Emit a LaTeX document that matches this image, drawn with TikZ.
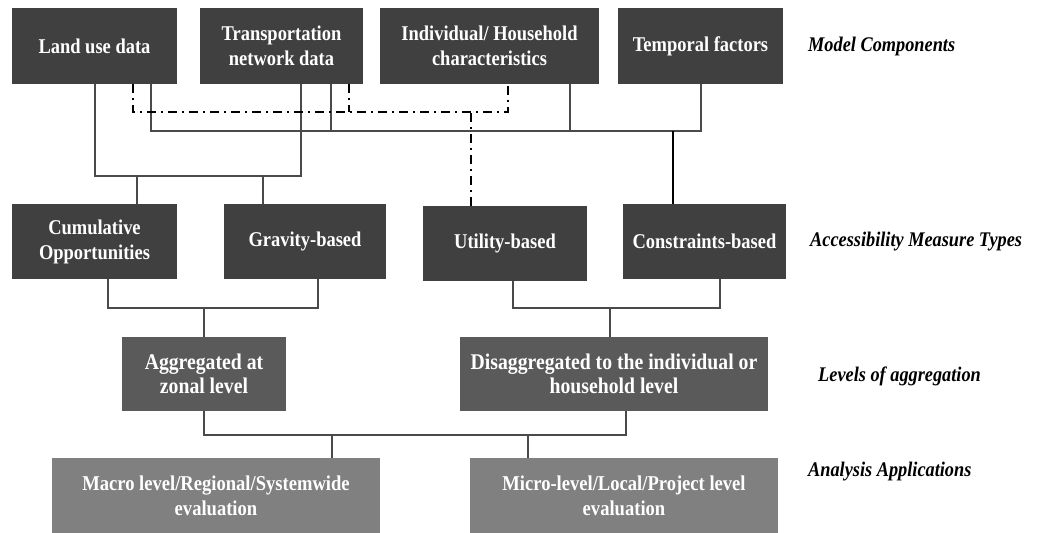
\documentclass[tikz,border=0pt]{standalone}
\usepackage{fontspec}
\setmainfont{Liberation Serif}[FakeStretch=0.88]
\definecolor{cA}{HTML}{404040}
\definecolor{cB}{HTML}{5A5A5A}
\definecolor{cC}{HTML}{808080}
\definecolor{lc}{HTML}{4A4A4A}
\begin{document}
\begin{tikzpicture}[x=1pt,y=-1pt,
  box/.style={fill=cA, text=white, font=\bfseries\fontsize{21}{25}\selectfont, align=center, inner sep=0pt, minimum height=76pt},
  lab/.style={anchor=west, font=\bfseries\itshape\fontsize{20.8}{24}\selectfont, inner sep=0pt},
  ln/.style={draw=lc, line width=2pt},
  dd/.style={draw=black, line width=2pt, dash pattern=on 9pt off 5pt on 2pt off 5pt}]
\useasboundingbox (0,0) rectangle (1042,533);
% row 1
\node[box,minimum width=165pt] (lu) at (94.5,46) {Land use data};
\node[box,minimum width=163pt] (tn) at (281.5,46) {Transportation\\network data};
\node[box,minimum width=219pt] (ih) at (489.5,46) {Individual/ Household\\characteristics};
\node[box,minimum width=165pt] (tf) at (700.5,46) {Temporal factors};
\node[lab] (mc) at (808,46) {Model Components};
% row 2
\node[box,minimum width=165pt,minimum height=75pt] (co) at (94.5,241.5) {Cumulative\\Opportunities};
\node[box,minimum width=162pt,minimum height=75pt] (gr) at (305,241.5) {Gravity-based};
\node[box,minimum width=164pt,minimum height=75pt] (ut) at (505,243.5) {Utility-based};
\node[box,minimum width=163pt,minimum height=75pt] (cn) at (704.5,241.5) {Constraints-based};
\node[lab] (am) at (810,242) {Accessibility Measure Types};
% row 3
\node[box,fill=cB,minimum width=164pt,minimum height=74pt,font=\bfseries\fontsize{22.4}{24.5}\selectfont] (ag) at (204,374) {Aggregated at\\zonal level};
\node[box,fill=cB,minimum width=308pt,minimum height=74pt,font=\bfseries\fontsize{22.4}{24.5}\selectfont] (di) at (614,374) {Disaggregated to the individual or\\household level};
\node[lab] (la) at (818,376) {Levels of aggregation};
% row 4
\node[box,fill=cC,minimum width=328pt,minimum height=75pt,font=\bfseries\fontsize{21.1}{25}\selectfont] (ma) at (216,495.5) {Macro level/Regional/Systemwide\\evaluation};
\node[box,fill=cC,minimum width=308pt,minimum height=75pt,font=\bfseries\fontsize{21.1}{25}\selectfont] (mi) at (624,495.5) {Micro-level/Local/Project level\\evaluation};
\node[lab] (aa) at (808,472) {Analysis Applications};
% solid set A (land use + transport -> cumulative, gravity)
\draw[ln] ([xshift=0.5pt]lu.south) -- ++(0,92) -| ([xshift=19.5pt]tn.south);
\draw[ln] ([xshift=42.5pt]co.north) -- ++(0,-28);
\draw[ln] ([xshift=-42pt]gr.north) -- ++(0,-28);
% solid set B (all -> constraints)
\draw[ln] ([xshift=56.5pt]lu.south) -- ++(0,47) -| (tf.south);
\draw[ln] ([xshift=49.5pt]tn.south) -- ++(0,47);
\draw[ln] ([xshift=80.5pt]ih.south) -- ++(0,47);
\draw[black,line width=2.5pt] ([xshift=-31.5pt]cn.north) -- ++(0,-73);
% dash-dot set (-> utility)
\draw[dd] ([xshift=38.5pt]lu.south) -- ++(0,28) -| ([xshift=18.5pt]ih.south);
\draw[dd] ([xshift=67.5pt]tn.south) -- ++(0,28);
\draw[dd] ([xshift=-34pt]ut.north) -- ++(0,-94);
% brackets to level of aggregation
\draw[ln] ([xshift=13.5pt]co.south) -- ++(0,29) -| ([xshift=13pt]gr.south);
\draw[ln] (ag.north) -- ++(0,-29);
\draw[ln] ([xshift=8pt]ut.south) -- ++(0,27) -| ([xshift=15.5pt]cn.south);
\draw[ln] ([xshift=-4pt]di.north) -- ++(0,-29);
% to applications
\draw[ln] (ag.south) -- ++(0,24) -| ([xshift=12pt]di.south);
\draw[ln] ([xshift=116pt]ma.north) -- ++(0,-23);
\draw[ln] ([xshift=-96pt]mi.north) -- ++(0,-23);
\end{tikzpicture}
\end{document}
